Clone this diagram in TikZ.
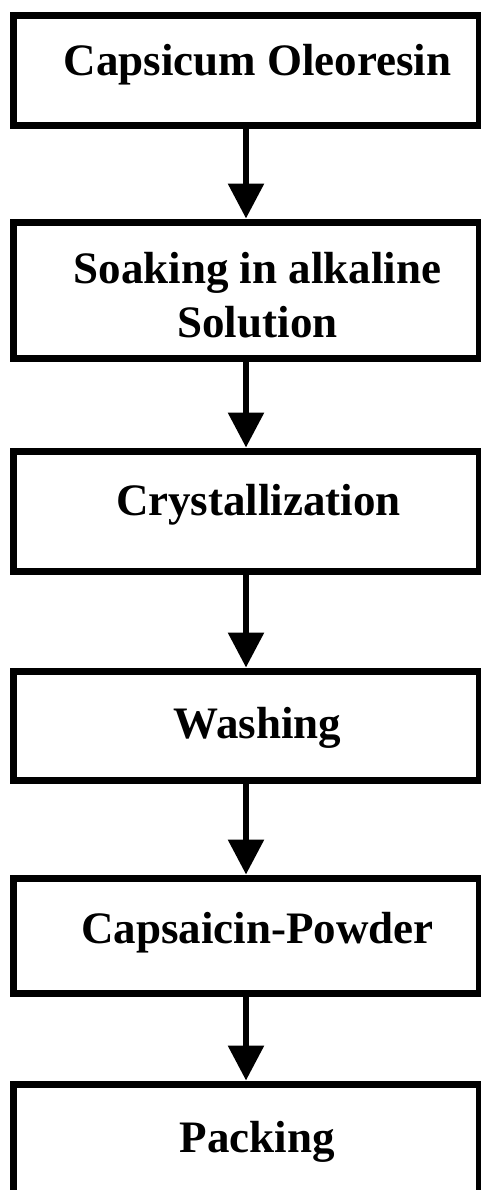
\documentclass[tikz,border=0pt]{standalone}
\usepackage{fontspec}
\setmainfont{Liberation Serif}
\usetikzlibrary{arrows.meta}
\tikzset{
  stepbox/.style={draw=black, line width=7pt, rectangle, inner sep=0pt, minimum width=466pt, fill=white},
  label/.style={anchor=base, inner sep=0pt, font=\fontsize{45pt}{54pt}\selectfont\bfseries, text=black},
  flow/.style={draw=black, line width=6pt, -{Triangle[width=35pt,length=35pt]}}
}
\begin{document}
\begin{tikzpicture}[x=1pt,y=-1pt]
\useasboundingbox (0,0) rectangle (481,1194);
\clip (0,0) rectangle (481,1189);
\node[stepbox, minimum height=110pt] (b1) at (246,70) {};
\node[stepbox, minimum height=136pt] (b2) at (246,290) {};
\node[stepbox, minimum height=120pt] (b3) at (246,511) {};
\node[stepbox, minimum height=109pt] (b4) at (246,725.5) {};
\node[stepbox, minimum height=115pt] (b5) at (246,935.5) {};
\node[stepbox, minimum height=220pt] (b6) at (246,1194) {};
\node[label] (t1) at (257.5,75) {Capsicum Oleoresin};
\node[label] (t2a) at (257.5,283) {Soaking in alkaline};
\node[label] (t2b) at (257.5,337) {Solution};
\node[label] (t3) at (258.5,515) {Crystallization};
\node[label] (t4) at (257.5,738) {Washing};
\node[label] (t5) at (257.5,943) {Capsaicin-Powder};
\node[label] (t6) at (257.5,1152) {Packing};
\draw[flow] (b1.south) -- (b2.north);
\draw[flow] (b2.south) -- (b3.north);
\draw[flow] (b3.south) -- (b4.north);
\draw[flow] (b4.south) -- (b5.north);
\draw[flow] (b5.south) -- (b6.north);
\end{tikzpicture}
\end{document}
